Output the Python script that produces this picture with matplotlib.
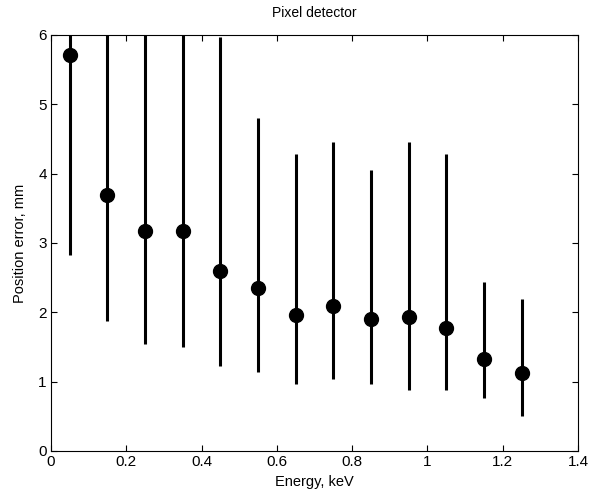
import matplotlib
matplotlib.use("Agg")
import matplotlib.pyplot as plt
import numpy as np

plt.rcParams['font.family'] = ['Liberation Sans', 'DejaVu Sans']

energy = [0.05, 0.15, 0.25, 0.35, 0.45, 0.55, 0.65, 0.75, 0.85, 0.95, 1.05, 1.15, 1.25]
error_mean = [5.71, 3.69, 3.17, 3.17, 2.60, 2.35, 1.96, 2.09, 1.91, 1.93, 1.77, 1.33, 1.13]
error_low = [2.83, 1.87, 1.54, 1.50, 1.23, 1.14, 0.97, 1.04, 0.97, 0.88, 0.88, 0.77, 0.51]
error_high = [8.60, 6.50, 6.50, 6.50, 5.97, 4.81, 4.28, 4.46, 4.06, 4.46, 4.28, 2.44, 2.19]
xticks = [0, 0.2, 0.4, 0.6, 0.8, 1.0, 1.2, 1.4]
xticklabels = ['0', '0.2', '0.4', '0.6', '0.8', '1', '1.2', '1.4']
yticks = [0, 1, 2, 3, 4, 5, 6]

fig = plt.figure(figsize=(5.92, 4.96), dpi=100)
ax = fig.add_axes([51/592, 45/496, (578-51)/592, (451-35)/496])

m = np.array(error_mean)
yerr = [m - np.array(error_low), np.array(error_high) - m]
ax.errorbar(energy, error_mean, yerr=yerr, fmt='o', color='black',
            markersize=10, elinewidth=2.2, capsize=0, zorder=3)

ax.set_xlim(0, 1.4)
ax.set_ylim(0, 6)
ax.set_xticks(xticks)
ax.set_xticklabels(xticklabels)
ax.set_yticks(yticks)
ax.tick_params(direction='in', top=True, right=True, length=4, width=0.8,
               labelsize=11, colors='black')
ax.tick_params(axis='x', pad=3)
ax.tick_params(axis='y', pad=3)
for s in ax.spines.values():
    s.set_linewidth(0.8)

ax.set_title('Pixel detector', fontsize=10, pad=13)
ax.set_xlabel('Energy, keV', fontsize=10.5, labelpad=4)
ax.set_ylabel('Position error, mm', fontsize=10.5, labelpad=8)

fig.savefig('out.png', dpi=100)
